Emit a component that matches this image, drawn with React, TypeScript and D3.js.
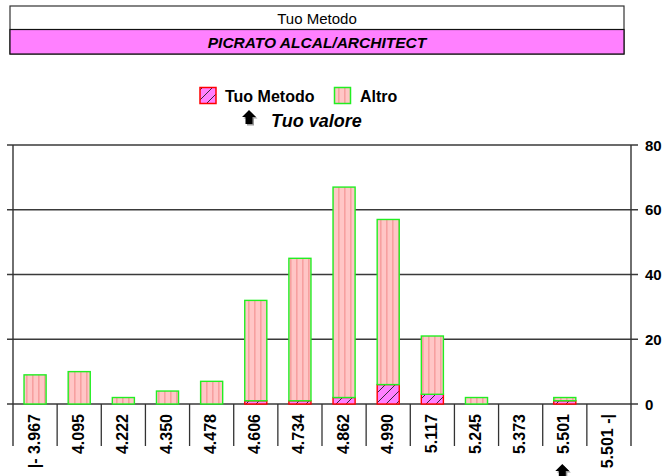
import React from 'react';
import * as d3 from 'd3';

// --- Data ---
const categories = ['|- 3.967', '4.095', '4.222', '4.350', '4.478', '4.606', '4.734', '4.862', '4.990', '5.117', '5.245', '5.373', '5.501', '5.501 -|'];
const tuoMetodo = [0, 0, 0, 0, 0, 1, 1, 2, 6, 3, 0, 0, 1, 0];
const altro = [9, 10, 2, 4, 7, 31, 44, 65, 51, 18, 2, 0, 1, 0];
const yTicks = [0, 20, 40, 60, 80];
const tuoValore = '5.501';

const FONT = "'Liberation Sans', Arial, Helvetica, sans-serif";

const width = 665;
const height = 476;
const plot = { left: 13, right: 631, top: 145, bottom: 404, sepBottom: 446 };

// Up arrow with a grey drop shadow, tip at (x, y)
const Arrow = ({ x, y }: { x: number; y: number }) => {
    const d = (ox: number, oy: number) =>
        `M${x + ox},${y + oy} L${x + ox + 7},${y + oy + 7} L${x + ox + 3.5},${y + oy + 7} L${x + ox + 3.5},${y + oy + 14} L${x + ox - 3.5},${y + oy + 14} L${x + ox - 3.5},${y + oy + 7} L${x + ox - 7},${y + oy + 7} Z`;
    return (
        <g>
            <path d={d(1.5, 1.5)} fill="#9a9a9a" />
            <path d={d(0, 0)} fill="#000" />
        </g>
    );
};

export default function App() {
    const rows = categories.map((c, i) => ({ cat: c, tuo: tuoMetodo[i], altro: altro[i] }));
    const series = d3.stack<any>().keys(['tuo', 'altro'])(rows);

    // --- Scales ---
    const x = d3.scaleBand().domain(categories).range([plot.left, plot.right]).padding(0);
    const y = d3.scaleLinear().domain([0, 80]).range([plot.bottom, plot.top]);
    const bw = x.bandwidth() * 0.5;

    const fills: Record<string, string> = { tuo: 'url(#hatchTuo)', altro: 'url(#stripeAltro)' };
    const strokes: Record<string, string> = { tuo: '#ff0000', altro: '#22ee22' };

    return (
        <svg width={width} height={height} style={{ position: 'absolute', left: 0, top: 0, background: '#fff' }} fontFamily={FONT}>
            <defs>
                <pattern id="stripeAltro" patternUnits="userSpaceOnUse" width={6} height={6}>
                    <rect width={6} height={6} fill="#ffc6c6" />
                    <rect x={2} width={1.6} height={6} fill="#f7a0a0" />
                </pattern>
                <pattern id="hatchTuo" patternUnits="userSpaceOnUse" width={10} height={10}>
                    <rect width={10} height={10} fill="#ff80ff" />
                    <path d="M0,10 L10,0 M-2,2 L2,-2 M8,12 L12,8" stroke="#222" strokeWidth={0.9} />
                </pattern>
            </defs>

            {/* Header box */}
            <rect x={10} y={6} width={614} height={48} fill="#fff" stroke="#333" strokeWidth={1.2} />
            <rect x={10} y={29.5} width={614} height={24.5} fill="#ff80ff" stroke="#111" strokeWidth={1.2} />
            <text x={317} y={18} textAnchor="middle" dominantBaseline="central" fontSize={15} fill="#000">Tuo Metodo</text>
            <text x={317} y={42} textAnchor="middle" dominantBaseline="central" fontSize={15.5} fontWeight="bold" fontStyle="italic" fill="#000">PICRATO ALCAL/ARCHITECT</text>

            {/* Legend */}
            <rect x={200} y={87.5} width={16} height={16} fill="url(#hatchTuo)" stroke="#ff0000" strokeWidth={1.5} />
            <text x={225} y={96} dominantBaseline="central" fontSize={16} fontWeight="bold" fill="#000">Tuo Metodo</text>
            <rect x={334.5} y={87.5} width={16} height={16} fill="url(#stripeAltro)" stroke="#22ee22" strokeWidth={1.5} />
            <text x={360} y={96} dominantBaseline="central" fontSize={16} fontWeight="bold" fill="#000">Altro</text>
            <Arrow x={249} y={110} />
            <text x={271} y={121} dominantBaseline="central" fontSize={18} fontWeight="bold" fontStyle="italic" fill="#000">Tuo valore</text>

            {/* Grid lines + ticks */}
            {yTicks.map(t => (
                <g key={t}>
                    <line x1={7} x2={638} y1={y(t)} y2={y(t)} stroke="#3a3a3a" strokeWidth={1.4} />
                    <text x={645} y={y(t)} dominantBaseline="central" fontSize={15} fontWeight="bold" fill="#000">{t}</text>
                </g>
            ))}

            {/* Bars */}
            {series.map(s => (
                <g key={s.key}>
                    {s.map((d, i) => {
                        const h = y(d[0]) - y(d[1]);
                        if (h <= 0) return null;
                        return (
                            <rect
                                key={i}
                                x={(x(categories[i]) ?? 0) + (x.bandwidth() - bw) / 2}
                                y={y(d[1])}
                                width={bw}
                                height={h}
                                fill={fills[s.key]}
                                stroke={strokes[s.key]}
                                strokeWidth={1.4}
                            />
                        );
                    })}
                </g>
            ))}

            {/* Axes and category separators */}
            <line x1={plot.left} x2={plot.left} y1={plot.top} y2={plot.sepBottom} stroke="#333" strokeWidth={1.4} />
            <line x1={plot.right} x2={plot.right} y1={plot.top} y2={plot.sepBottom} stroke="#333" strokeWidth={1.4} />
            {categories.slice(1).map(c => (
                <line key={c} x1={x(c)} x2={x(c)} y1={plot.bottom} y2={plot.sepBottom} stroke="#333" strokeWidth={1.3} />
            ))}

            {/* Category labels */}
            {categories.map(c => {
                const cx = (x(c) ?? 0) + x.bandwidth() / 2;
                return (
                    <text key={c} transform={`translate(${cx + 4.5},414) rotate(-90)`} textAnchor="end" fontSize={16} fontWeight="bold" fill="#000">
                        {c}
                    </text>
                );
            })}

            {/* Tuo valore marker */}
            <Arrow x={(x(tuoValore) ?? 0) + x.bandwidth() / 2 - 2.5} y={464} />
        </svg>
    );
}
